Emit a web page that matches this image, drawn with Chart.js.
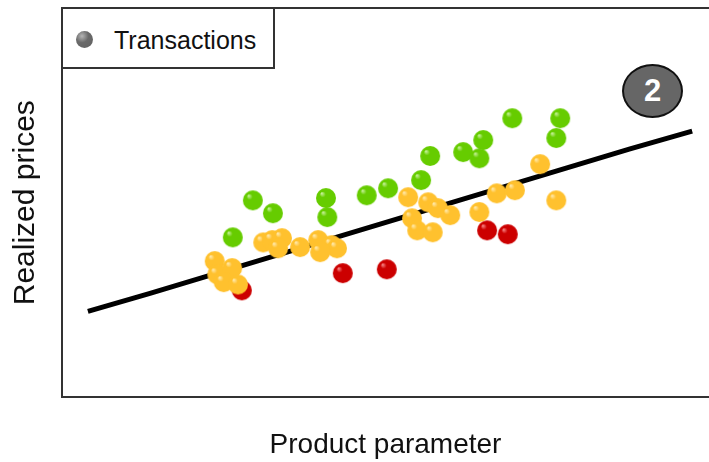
<!DOCTYPE html>
<html>
<head>
<meta charset="utf-8">
<script src="https://cdn.jsdelivr.net/npm/chart.js@4.4.1/dist/chart.umd.min.js"></script>
<style>
  html, body { margin: 0; padding: 0; background: #fff; }
  #wrap { position: relative; width: 709px; height: 462px; font-family: "Liberation Sans", Arial, sans-serif; }
  #legendBox {
    position: absolute; left: 61px; top: 7px; width: 210px; height: 58px;
    border: 2px solid #333; background: #fff; box-sizing: content-box;
  }
  #legendBox .dot {
    position: absolute; left: 13px; top: 22px; width: 17px; height: 17px; border-radius: 50%;
    background: radial-gradient(circle at 35% 30%, #b5b5b5 0%, #6a6a6a 40%, #606060 100%);
  }
  #legendBox .lbl { position: absolute; left: 51px; top: 17px; font-size: 25px; color: #111; line-height: 29px; }
  #badge {
    position: absolute; left: 622px; top: 64px; width: 57px; height: 50px; border-radius: 50%;
    background: #666; border: 2px solid #111; color: #fff; font-weight: bold; font-size: 31px;
    line-height: 50px; text-align: center;
  }
</style>
</head>
<body>
<div id="wrap">
  <canvas id="scatterChart" width="709" height="462"></canvas>
  <div id="legendBox"><span class="dot"></span><span class="lbl">Transactions</span></div>
  <div id="badge">2</div>
</div>
<script>
// transactions, x = product parameter, y = realized price (0-100 units)
const greenPoints = [
  [29.5, 50.6], [32.6, 47.3], [26.4, 41.1], [40.8, 51.2], [41.0, 46.3],
  [47.1, 51.9], [50.4, 53.7], [55.5, 55.8], [56.9, 62.0], [62.0, 63.0],
  [64.5, 61.4], [65.1, 66.1], [69.6, 71.7], [77.0, 71.7], [76.4, 66.6]
];
const redPoints = [
  [27.8, 27.5], [43.4, 31.9], [50.2, 32.9], [65.7, 42.9], [68.9, 41.9]
];
const orangePoints = [
  [23.6, 35.0], [24.0, 31.6], [26.3, 33.2], [25.0, 29.6], [27.2, 29.0],
  [31.1, 39.8], [32.5, 40.4], [34.0, 40.9], [33.4, 38.3], [36.8, 38.6],
  [39.6, 40.4], [41.7, 39.1], [42.5, 38.3], [39.9, 37.3],
  [53.5, 51.4], [56.6, 50.1], [58.1, 48.6], [60.0, 46.8], [54.1, 46.0],
  [54.9, 42.9], [57.3, 42.4], [64.5, 47.6], [67.2, 52.4], [70.0, 53.2],
  [73.9, 59.9], [76.4, 50.6]
];
// fitted price line
const trendLine = [
  [4.0, 22.1], [13.6, 26.7], [87.8, 63.8], [97.4, 68.4]
];

const toXY = arr => arr.map(p => ({ x: p[0], y: p[1] }));

// small glossy ball used as point marker
function ball(color, light, r) {
  const c = document.createElement('canvas');
  c.width = c.height = 2 * r + 2;
  const g = c.getContext('2d');
  const grad = g.createRadialGradient(r + 1 - r * 0.45, r + 1 - r * 0.5, 0, r + 1, r + 1, r);
  grad.addColorStop(0, light);
  grad.addColorStop(0.3, color);
  grad.addColorStop(1, color);
  g.fillStyle = grad;
  g.beginPath();
  g.arc(r + 1, r + 1, r, 0, Math.PI * 2);
  g.fill();
  return c;
}

const ctx = document.getElementById('scatterChart').getContext('2d');
new Chart(ctx, {
  type: 'scatter',
  data: {
    datasets: [
      { label: 'orange', data: toXY(orangePoints), pointStyle: ball('#ffc12e', '#fff0c0', 10) },
      { label: 'red', data: toXY(redPoints), pointStyle: ball('#cc0000', '#ff9a9a', 10) },
      { label: 'green', data: toXY(greenPoints), pointStyle: ball('#66cc00', '#d4f7b0', 10) },
      {
        type: 'line', label: 'trend', data: toXY(trendLine),
        borderColor: '#000', borderWidth: 5, pointRadius: 0, fill: false, tension: 0
      }
    ]
  },
  options: {
    responsive: false,
    animation: false,
    layout: { autoPadding: false, padding: { top: 8, right: 0, left: 0, bottom: 0 } },
    plugins: { legend: { display: false }, tooltip: { enabled: false } },
    scales: {
      x: {
        type: 'linear', min: 0, max: 100, position: 'bottom',
        ticks: { display: false },
        grid: { display: false, drawTicks: false },
        border: { display: true, color: '#333', width: 2 },
        title: {
          display: true, text: 'Product parameter', color: '#111',
          font: { family: 'Liberation Sans', size: 28 },
          padding: { top: 31, bottom: 0 }
        }
      },
      x2: {
        type: 'linear', axis: 'x', min: 0, max: 100, position: 'top',
        ticks: { display: false },
        grid: { display: false, drawTicks: false },
        border: { display: true, color: '#333', width: 2 }
      },
      y: {
        type: 'linear', min: 0, max: 100,
        ticks: { display: false },
        grid: { display: false, drawTicks: false },
        border: { display: true, color: '#333', width: 2 },
        title: {
          display: true, text: 'Realized prices', color: '#111',
          font: { family: 'Liberation Sans', size: 30 },
          padding: { top: 8, bottom: 18 }
        }
      }
    }
  }
});
</script>
</body>
</html>
